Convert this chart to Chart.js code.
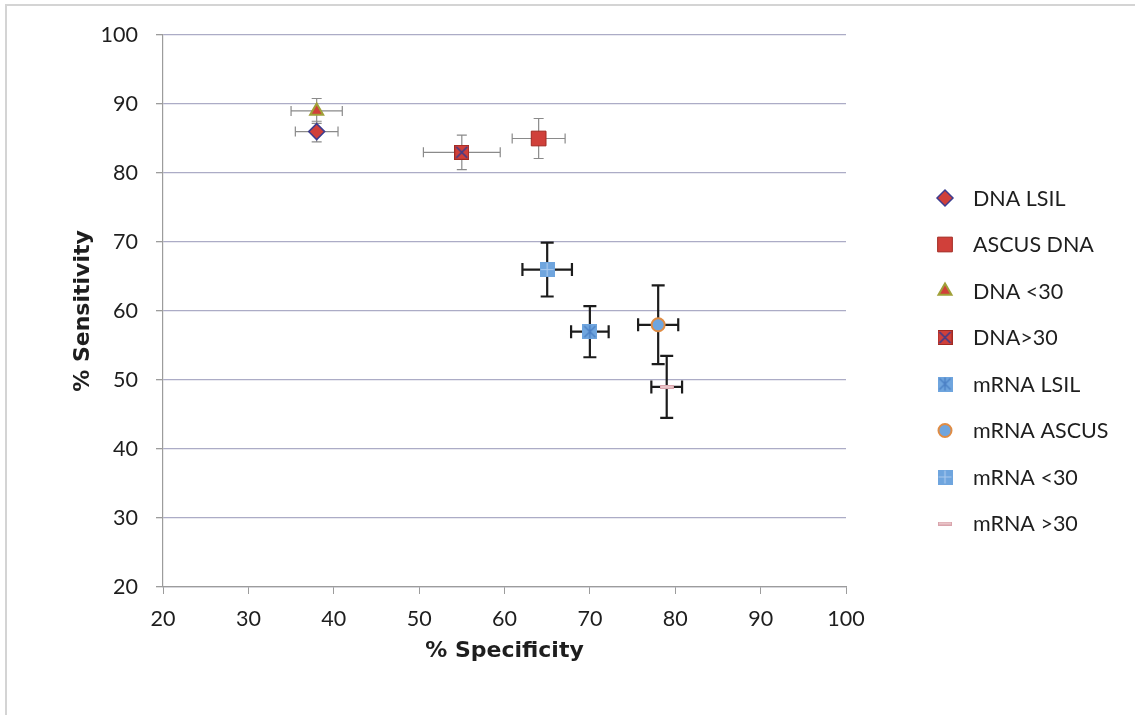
<!DOCTYPE html>
<html>
<head>
<meta charset="utf-8">
<script src="https://cdn.jsdelivr.net/npm/chart.js@4/dist/chart.umd.min.js"></script>
<style>
html,body{margin:0;padding:0;background:#fff;overflow:hidden;}
#wrap{position:relative;width:1135px;height:715px;}
#frame{position:absolute;left:5px;top:4px;width:1200px;height:800px;border-left:2px solid #d4d4d4;border-top:2px solid #d4d4d4;pointer-events:none;}
canvas{position:absolute;left:0;top:0;}
</style>
</head>
<body>
<div id="wrap">
<canvas id="c" width="1135" height="715"></canvas>
<div id="frame"></div>
</div>
<script>
// ---- data ----
const seriesNames = ['DNA LSIL', 'ASCUS DNA', 'DNA <30', 'DNA>30', 'mRNA LSIL', 'mRNA ASCUS', 'mRNA <30', 'mRNA >30'];
const specificity = [38, 64, 38, 55, 70, 78, 65, 79];
const sensitivity = [86, 85, 89, 83, 57, 58, 66, 49];
const specificityErr = [2.5, 3.1, 3.0, 4.5, 2.2, 2.35, 2.9, 1.8];
const sensitivityErr = [1.5, 2.9, 1.8, 2.5, 3.7, 5.7, 3.9, 4.5];
const xTickValues = [20, 30, 40, 50, 60, 70, 80, 90, 100];
const yTickValues = [20, 30, 40, 50, 60, 70, 80, 90, 100];

// ---- styles ----
const RED = '#d0403a', RED_DARK = '#a22a22', BLUE = '#6fa5de', BLUE_DARK = '#4a7fc4';
const FONT = 'Lato, "Open Sans", sans-serif';
const TITLE_FONT = '"DejaVu Sans", Verdana, sans-serif';

function makeMarker(kind) {
  const c = document.createElement('canvas');
  const ctx = c.getContext('2d');
  if (kind === 'dnaGt30') {
    c.width = 15; c.height = 15;
    ctx.fillStyle = RED; ctx.fillRect(0, 0, 15, 15);
    ctx.strokeStyle = RED_DARK; ctx.lineWidth = 1; ctx.strokeRect(0.5, 0.5, 14, 14);
    ctx.strokeStyle = '#3c3c8c'; ctx.lineWidth = 1.6;
    ctx.beginPath(); ctx.moveTo(2, 2); ctx.lineTo(13, 13); ctx.moveTo(13, 2); ctx.lineTo(2, 13); ctx.stroke();
  } else if (kind === 'mrnaLsil') {
    c.width = 15; c.height = 15;
    ctx.fillStyle = BLUE; ctx.fillRect(0, 0, 15, 15);
    ctx.strokeStyle = BLUE_DARK; ctx.lineWidth = 1.4;
    ctx.beginPath();
    ctx.moveTo(2, 2); ctx.lineTo(13, 13); ctx.moveTo(13, 2); ctx.lineTo(2, 13);
    ctx.moveTo(7.5, 1); ctx.lineTo(7.5, 14);
    ctx.stroke();
  } else if (kind === 'mrnaLt30') {
    c.width = 15; c.height = 15;
    ctx.fillStyle = BLUE; ctx.fillRect(0, 0, 15, 15);
    ctx.strokeStyle = '#a9c9ee'; ctx.lineWidth = 1.2;
    ctx.beginPath();
    ctx.moveTo(7.5, 1); ctx.lineTo(7.5, 14); ctx.moveTo(1, 7.5); ctx.lineTo(14, 7.5);
    ctx.stroke();
  } else if (kind === 'mrnaGt30') {
    c.width = 14; c.height = 4;
    ctx.fillStyle = '#d9a4ac'; ctx.fillRect(0, 0, 14, 4);
    ctx.fillStyle = '#e9c4c8'; ctx.fillRect(1, 1, 12, 2);
  }
  return c;
}

const pointStyles = ['rectRot', 'rect', 'triangle', makeMarker('dnaGt30'), makeMarker('mrnaLsil'), 'circle', makeMarker('mrnaLt30'), makeMarker('mrnaGt30')];
const pointRadius = [8, 10.4, 7.5, 8, 8, 6.5, 8, 7];
const pointFill = [RED, RED, RED, RED, BLUE, BLUE, BLUE, '#d9a4ac'];
const pointBorder = ['#3d3d8f', RED_DARK, '#a0a038', RED_DARK, BLUE_DARK, '#e08c44', BLUE, '#d9a4ac'];
const pointBorderW = [1.5, 1, 2, 1, 1, 2, 1, 1];
const errColor = ['#8a8a8a', '#8a8a8a', '#8a8a8a', '#8a8a8a', '#1c1c1c', '#1c1c1c', '#1c1c1c', '#1c1c1c'];
const errWidth = [1.2, 1.2, 1.2, 1.2, 2.2, 2.2, 2.2, 2.2];
const errCap = [5, 5, 5, 5, 6.5, 6.5, 6.5, 6.5];

const datasets = seriesNames.map((name, i) => ({
  label: name,
  data: [{x: specificity[i], y: sensitivity[i]}],
  errX: [specificityErr[i]],
  errY: [sensitivityErr[i]],
  pointStyle: pointStyles[i],
  pointRadius: pointRadius[i],
  pointHoverRadius: pointRadius[i],
  backgroundColor: pointFill[i],
  borderColor: pointBorder[i],
  borderWidth: pointBorderW[i],
  showLine: false
}));

const errorBarPlugin = {
  id: 'errorBars',
  beforeDatasetsDraw(chart) {
    const ctx = chart.ctx, xs = chart.scales.x, ys = chart.scales.y;
    chart.data.datasets.forEach((ds, i) => {
      ds.data.forEach((p, j) => {
        const ex = ds.errX[j], ey = ds.errY[j];
        const cx = xs.getPixelForValue(p.x), cy = ys.getPixelForValue(p.y);
        const x0 = xs.getPixelForValue(p.x - ex), x1 = xs.getPixelForValue(p.x + ex);
        const y0 = ys.getPixelForValue(p.y + ey), y1 = ys.getPixelForValue(p.y - ey);
        const cap = errCap[i];
        ctx.save();
        ctx.strokeStyle = errColor[i];
        ctx.lineWidth = errWidth[i];
        ctx.beginPath();
        ctx.moveTo(x0, cy); ctx.lineTo(x1, cy);
        ctx.moveTo(x0, cy - cap); ctx.lineTo(x0, cy + cap);
        ctx.moveTo(x1, cy - cap); ctx.lineTo(x1, cy + cap);
        ctx.moveTo(cx, y0); ctx.lineTo(cx, y1);
        ctx.moveTo(cx - cap, y0); ctx.lineTo(cx + cap, y0);
        ctx.moveTo(cx - cap, y1); ctx.lineTo(cx + cap, y1);
        ctx.stroke();
        ctx.restore();
      });
    });
  }
};

const legendPlugin = {
  id: 'sideLegend',
  afterDraw(chart) {
    const ctx = chart.ctx;
    const startX = 945, startY = 198, step = 46.5;
    chart.data.datasets.forEach((ds, i) => {
      const y = startY + i * step;
      ctx.save();
      ctx.fillStyle = ds.backgroundColor;
      ctx.strokeStyle = ds.borderColor;
      ctx.lineWidth = ds.borderWidth;
      Chart.helpers.drawPoint(ctx, {pointStyle: ds.pointStyle, radius: ds.pointRadius, borderWidth: ds.borderWidth, rotation: 0}, startX, y);
      ctx.fillStyle = '#1e1e1e';
      ctx.font = '21.5px ' + FONT;
      ctx.textBaseline = 'middle';
      ctx.textAlign = 'left';
      ctx.fillText(ds.label, 973, y + 1);
      ctx.restore();
    });
  }
};

const L = 70, B = 51;
new Chart(document.getElementById('c'), {
  type: 'scatter',
  data: {datasets},
  plugins: [errorBarPlugin, legendPlugin],
  options: {
    responsive: false,
    animation: false,
    events: [],
    layout: {padding: {top: 35, right: 289, left: L, bottom: B}},
    plugins: {legend: {display: false}, tooltip: {enabled: false}},
    scales: {
      x: {
        type: 'linear', min: 20, max: 100,
        afterBuildTicks(s) { s.ticks = xTickValues.map(v => ({value: v})); },
        afterFit(s) { s.height = 715 - B - 587; },
        ticks: {color: '#1e1e1e', font: {family: FONT, size: 21.5}, padding: 12, maxRotation: 0},
        grid: {drawOnChartArea: false, drawTicks: true, tickLength: 7, color: '#9c9c9c', tickColor: '#9c9c9c'},
        border: {color: '#9c9c9c', width: 1.2},
        title: {display: true, text: '% Specificity', color: '#1e1e1e', font: {family: TITLE_FONT, size: 22, weight: 'bold'}, padding: {top: 0, bottom: 0}}
      },
      y: {
        type: 'linear', min: 20, max: 100,
        afterBuildTicks(s) { s.ticks = yTickValues.map(v => ({value: v})); },
        afterFit(s) { s.width = 163 - L; },
        ticks: {color: '#1e1e1e', font: {family: FONT, size: 21.5}, padding: 18},
        grid: {drawTicks: true, tickLength: 7, color: '#acacc6', tickColor: '#9c9c9c', lineWidth: 1.3},
        border: {color: '#9c9c9c', width: 1.2},
        title: {display: true, text: '% Sensitivity', color: '#1e1e1e', font: {family: TITLE_FONT, size: 22, weight: 'bold'}, padding: {top: 0, bottom: 0}}
      }
    }
  }
});
</script>
</body>
</html>
